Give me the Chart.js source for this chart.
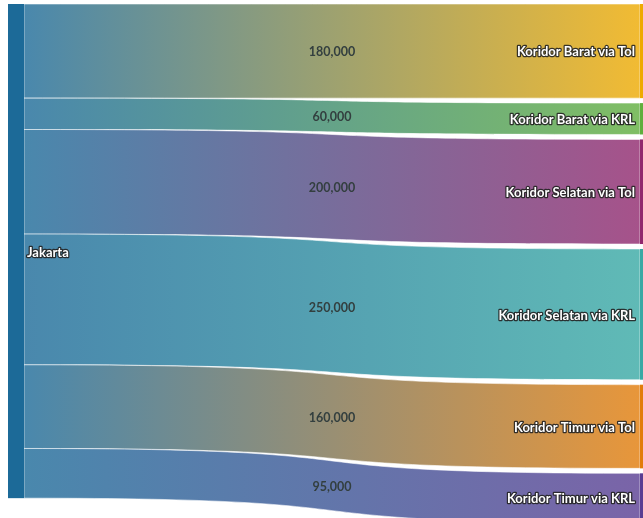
<!DOCTYPE html>
<html>
<head>
<meta charset="utf-8">
<title>Arus Komuter Jakarta</title>
<script src="https://cdn.jsdelivr.net/npm/chart.js@4.4.1/dist/chart.umd.min.js"></script>
<style>
    html, body { margin: 0; padding: 0; overflow: hidden; background: #ffffff; }
    #wrap { width: 660px; height: 530px; }
</style>
</head>
<body>
<div id="wrap"><canvas id="sankeyChart" width="660" height="530"></canvas></div>
<script>
const sourceNode = "Jakarta";
const targetNodes = [
    "Koridor Barat via Tol",
    "Koridor Barat via KRL",
    "Koridor Selatan via Tol",
    "Koridor Selatan via KRL",
    "Koridor Timur via Tol",
    "Koridor Timur via KRL",
];
const flowValues = [180000, 60000, 200000, 250000, 160000, 95000];
const sourceColor = "#1c6a98";
const targetColors = ["#eeaa00", "#60ae3d", "#90276d", "#38a9a4", "#e27c09", "#593d92"];

const NODE_WIDTH = 16;
const NODE_GAP = 9500; // gap between target nodes, in value units
const FLOW_ALPHA = 0.8;
const FONT = "Lato, 'Open Sans', sans-serif";

const totalFlow = flowValues.reduce((a, b) => a + b, 0);
const yMax = totalFlow + NODE_GAP * (targetNodes.length - 1);

function formatNumber(n) {
    return new Intl.NumberFormat("en-US").format(n);
}

function rgba(hex, a) {
    const v = parseInt(hex.slice(1), 16);
    return "rgba(" + (v >> 16) + "," + ((v >> 8) & 255) + "," + (v & 255) + "," + a + ")";
}

function outlinedText(ctx, text, x, y) {
    ctx.lineJoin = "round";
    ctx.lineWidth = 2.5;
    ctx.strokeStyle = "rgba(35,35,35,0.9)";
    ctx.strokeText(text, x, y);
    ctx.fillStyle = "#ffffff";
    ctx.fillText(text, x, y);
}

const sankeyPlugin = {
    id: "sankeyFlows",
    beforeDatasetsDraw(chart) {
        const ctx = chart.ctx;
        const xs = chart.scales.x;
        const ys = chart.scales.y;

        const leftX = xs.getPixelForValue(0);
        const rightX = xs.getPixelForValue(1);
        const x1 = leftX + NODE_WIDTH;
        const x2 = rightX - NODE_WIDTH;

        // stack positions on both sides
        const flows = [];
        let srcPos = 0;
        let dstPos = 0;
        flowValues.forEach((v, i) => {
            flows.push({
                sTop: ys.getPixelForValue(srcPos),
                sBot: ys.getPixelForValue(srcPos + v),
                dTop: ys.getPixelForValue(dstPos),
                dBot: ys.getPixelForValue(dstPos + v),
                value: v,
                color: targetColors[i],
                label: targetNodes[i],
            });
            srcPos += v;
            dstPos += v + NODE_GAP;
        });

        const c1 = x1 + (x2 - x1) * 2 / 3;
        const c2 = x1 + (x2 - x1) / 3;

        ctx.save();
        flows.forEach((f) => {
            const grad = ctx.createLinearGradient(x1, 0, x2, 0);
            grad.addColorStop(0, rgba(sourceColor, FLOW_ALPHA));
            grad.addColorStop(1, rgba(f.color, FLOW_ALPHA));

            ctx.beginPath();
            ctx.moveTo(x1, f.sTop);
            ctx.bezierCurveTo(c1, f.sTop, c2, f.dTop, x2, f.dTop);
            ctx.lineTo(x2, f.dBot);
            ctx.bezierCurveTo(c2, f.dBot, c1, f.sBot, x1, f.sBot);
            ctx.closePath();
            ctx.fillStyle = grad;
            ctx.fill();
            ctx.lineWidth = 1;
            ctx.strokeStyle = "rgba(255,255,255,0.55)";
            ctx.stroke();
        });

        // nodes
        ctx.fillStyle = sourceColor;
        ctx.fillRect(leftX, flows[0].sTop, NODE_WIDTH, flows[flows.length - 1].sBot - flows[0].sTop);
        flows.forEach((f) => {
            ctx.fillStyle = f.color;
            ctx.fillRect(x2, f.dTop, NODE_WIDTH, f.dBot - f.dTop);
        });

        // value labels in the middle of each flow
        ctx.font = "bold 12.5px " + FONT;
        ctx.textAlign = "center";
        ctx.textBaseline = "middle";
        ctx.fillStyle = "#333f3f";
        flows.forEach((f) => {
            const midY = (f.sTop + f.sBot + f.dTop + f.dBot) / 4;
            ctx.fillText(formatNumber(f.value), (x1 + x2) / 2, midY + 1);
        });

        // node labels
        ctx.font = "bold 13px " + FONT;
        ctx.textAlign = "left";
        outlinedText(ctx, sourceNode, x1 + 3, (flows[0].sTop + flows[flows.length - 1].sBot) / 2 + 2);
        ctx.textAlign = "right";
        flows.forEach((f) => {
            outlinedText(ctx, f.label, x2 - 5, (f.dTop + f.dBot) / 2 + 1);
        });
        ctx.restore();
    },
};

new Chart(document.getElementById("sankeyChart"), {
    type: "scatter",
    data: { datasets: [{ data: [] }] },
    options: {
        responsive: false,
        animation: false,
        layout: { padding: { top: 4, right: 4, bottom: 7, left: 8 } },
        plugins: {
            legend: { display: false },
            tooltip: { enabled: false },
        },
        scales: {
            x: { type: "linear", min: 0, max: 1, display: false },
            y: { type: "linear", min: 0, max: yMax, reverse: true, display: false },
        },
    },
    plugins: [sankeyPlugin],
});
</script>
</body>
</html>
